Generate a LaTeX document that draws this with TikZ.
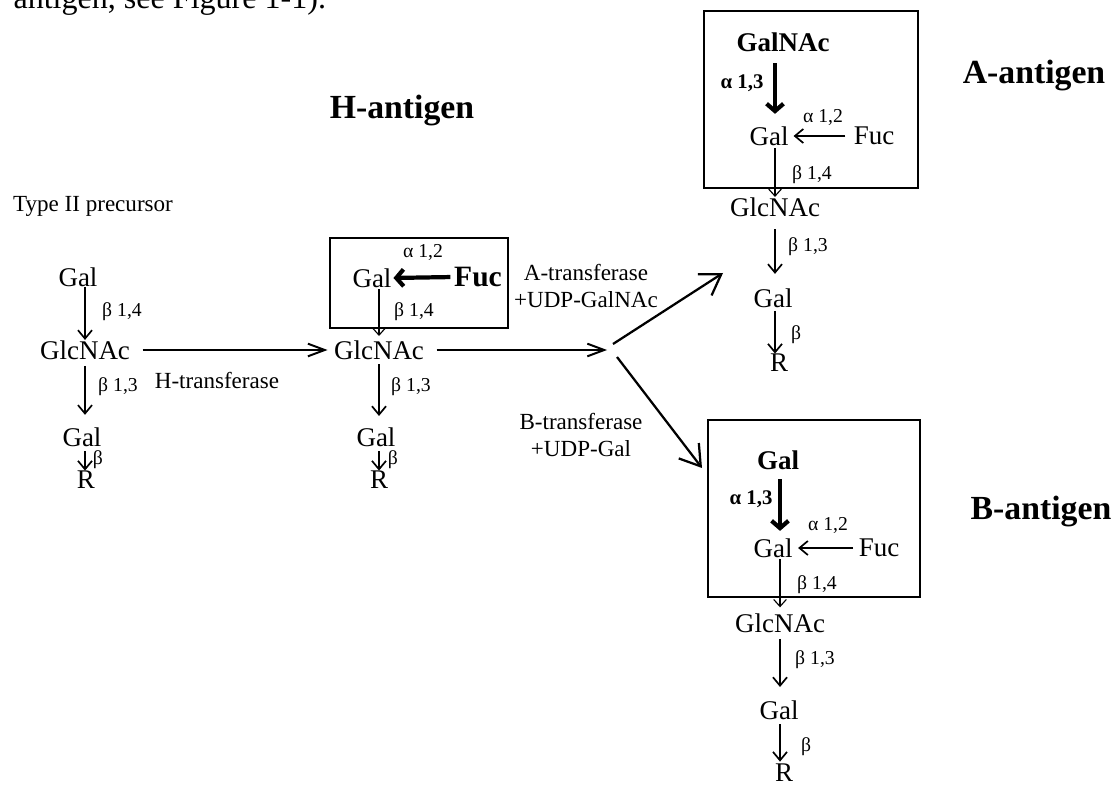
\documentclass[tikz,border=0pt]{standalone}
\usepackage{fontspec}
\setmainfont{Liberation Serif}
\usetikzlibrary{arrows.meta}

\begin{document}
\begin{tikzpicture}[x=0.0125cm, y=-0.0125cm,
  sugar/.style={inner sep=0pt, font=\fontsize{9.6}{11}\selectfont},
  bsugar/.style={inner sep=0pt, font=\fontsize{9.6}{11}\selectfont\bfseries},
  link/.style={inner sep=0pt, font=\fontsize{7}{8}\selectfont},
  blink/.style={inner sep=0pt, font=\fontsize{7.4}{8}\selectfont\bfseries},
  enz/.style={inner sep=0pt, align=center, font=\fontsize{8.2}{9.3}\selectfont},
  antigen/.style={inner sep=0pt, font=\fontsize{12}{14}\selectfont\bfseries},
  frame/.style={draw, line width=0.6pt},
  bond/.style={-{Straight Barb[length=3pt,width=5pt]}, line width=0.6pt},
  thinbond/.style={-{Straight Barb[length=2.5pt,width=4.5pt]}, line width=0.4pt},
  heavy/.style={-{Straight Barb[length=2.6pt,width=6pt,line width=1.5pt]}, line width=1.5pt},
  react/.style={-{Straight Barb[length=6pt,width=4.5pt]}, line width=0.7pt},
  fork/.style={-{Straight Barb[length=7pt,width=9pt]}, line width=0.8pt},
]
\useasboundingbox (0,0) rectangle (1116,785);

% === Cut-off text line at the top ===
\node[anchor=base west, inner sep=0pt, font=\fontsize{11.4}{13}\selectfont] (frag) at (13,9) {antigen, see Figure 1-1).};

% === Titles ===
\node[antigen] (hag) at (402,111) {H-antigen};
\node[antigen] (aag) at (1034,76) {A-antigen};
\node[antigen] (bag) at (1041,512) {B-antigen};
\node[enz] (typeII) at (93,206) {Type II precursor};

% === Type II precursor ===
\node[sugar] (p1) at (78,277) {Gal};
\node[sugar] (p2) at (85,350) {GlcNAc};
\node[sugar] (p3) at (82,437) {Gal};
\node[sugar] (p4) at (86,480) {R};
\node[link] at (122,312) {β 1,4};
\node[link] at (118,387) {β 1,3};
\node[link] at (98,460) {β};
\draw[bond] (p1.south -| p2) -- (p2.north);
\draw[bond, shorten <=2.1pt, shorten >=4.3pt] (p2.south) -- (p3.north -| p2);
\draw[bond, shorten <=1.4pt] (p3.south -| p2) -- (p4.north -| p2);

% === H-antigen ===
\draw[frame] (330,238) rectangle (508,328);
\node[sugar] (h1) at (372,278) {Gal};
\node[bsugar, font=\fontsize{10.5}{12}\selectfont\bfseries] (hfuc) at (478,277) {Fuc};
\node[sugar] (h2) at (379,350) {GlcNAc};
\node[sugar] (h3) at (376,437) {Gal};
\node[sugar] (h4) at (379,480) {R};
\node[link] at (423,252) {α 1,2};
\node[link] at (414,312) {β 1,4};
\node[link] at (411,387) {β 1,3};
\node[link] at (393,460) {β};
\draw[heavy, shorten <=1.2pt, shorten >=0.5pt] (hfuc.west) -- (h1.east);
\draw[thinbond, shorten <=0.4pt, shorten >=1.4pt] (h1.south -| h2) -- (h2.north);
\draw[bond, shorten <=1.4pt, shorten >=3.9pt] (h2.south) -- (h3.north -| h2);
\draw[bond, shorten <=1.4pt] (h3.south -| h2) -- (h4.north -| h2);

% === Transferase steps ===
\coordinate (br) at (607,350);
\coordinate (brA) at (613,344);
\coordinate (brB) at (617,357);
\coordinate (atip) at (723,273);
\coordinate (btip) at (702,468);
\draw[react, shorten <=4.3pt, shorten >=2.1pt] (p2.east) -- (h2.west);
\node[enz] (htr) at (217,380) {H-transferase};
\draw[react, shorten <=4.3pt] (h2.east) -- (br);
\draw[fork] (brA) -- (atip);
\draw[fork] (brB) -- (btip);
\node[enz] (atr) at (586,286) {A-transferase\\+UDP-GalNAc};
\node[enz] (btr) at (581,435) {B-transferase\\+UDP-Gal};

% === A-antigen ===
\draw[frame] (704,11) rectangle (918,188);
\node[bsugar] (agn) at (783,42) {GalNAc};
\node[sugar] (a1) at (769,136) {Gal};
\node[sugar] (afuc) at (874,136) {Fuc};
\node[sugar] (a2) at (775,207) {GlcNAc};
\node[sugar] (a3) at (773,298) {Gal};
\node[sugar] (a4) at (779,363) {R};
\node[blink] at (742,83) {α 1,3};
\node[link] at (823,117) {α 1,2};
\node[link] at (812,175) {β 1,4};
\node[link] at (808,247) {β 1,3};
\node[link] at (796,335) {β};
\draw[heavy, shorten <=3.9pt, shorten >=4.3pt] (agn.south -| a2) -- (a1.north -| a2);
\draw[bond, shorten <=2.8pt, shorten >=1.6pt] (afuc.west) -- (a1.east);
\draw[thinbond, shorten <=0.7pt] (a1.south -| a2) -- (a2.north);
\draw[bond, shorten <=4.3pt, shorten >=5pt] (a2.south) -- (a3.north -| a2);
\draw[bond, shorten <=1pt] (a3.south -| a2) -- (a4.north -| a2);

% === B-antigen ===
\draw[frame] (708,420) rectangle (920,597);
\node[bsugar] (bgal) at (778,460) {Gal};
\node[sugar] (b1) at (773,548) {Gal};
\node[sugar] (bfuc) at (879,548) {Fuc};
\node[sugar] (b2) at (780,623) {GlcNAc};
\node[sugar] (b3) at (779,710) {Gal};
\node[sugar] (b4) at (784,773) {R};
\node[blink] at (751,499) {α 1,3};
\node[link] at (828,525) {α 1,2};
\node[link] at (817,585) {β 1,4};
\node[link] at (815,660) {β 1,3};
\node[link] at (806,747) {β};
\draw[heavy, shorten <=3.2pt, shorten >=2.5pt] (bgal.south -| b2) -- (b1.north -| b2);
\draw[bond, shorten <=1.8pt, shorten >=1.8pt] (bfuc.west) -- (b1.east);
\draw[thinbond, shorten <=0.4pt, shorten >=2pt] (b1.south -| b2) -- (b2.north);
\draw[bond, shorten <=2.1pt, shorten >=4.6pt] (b2.south) -- (b3.north -| b2);
\draw[bond, shorten <=1.4pt, shorten >=0.7pt] (b3.south -| b2) -- (b4.north -| b2);
\end{tikzpicture}
\end{document}
